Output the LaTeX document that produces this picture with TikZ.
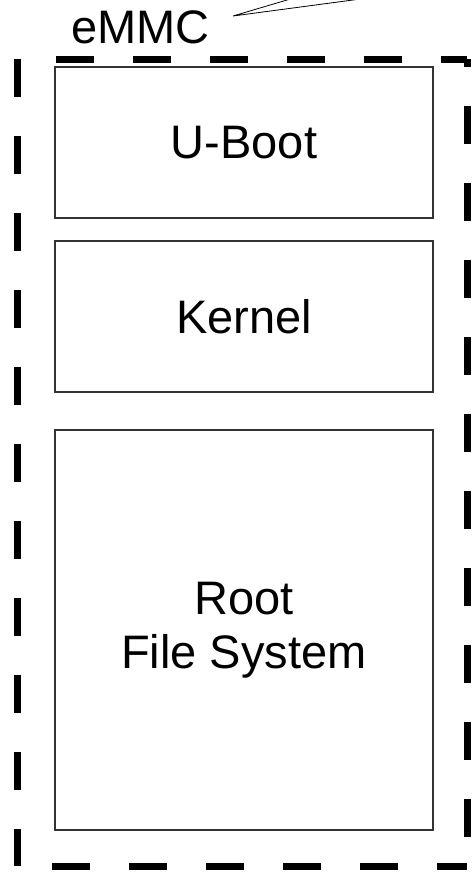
\documentclass[tikz,border=0pt]{standalone}
\usepackage{fontspec}
\setmainfont{Liberation Sans}
\begin{document}
\begin{tikzpicture}[x=1pt,y=-1pt,
  part/.style={draw=black!80,line width=1.2pt,minimum width=378pt,inner sep=0pt,align=center,font=\fontsize{47}{54}\selectfont},
  border/.style={line width=7pt,dash pattern=on 38pt off 39pt}]
\useasboundingbox (0,0) rectangle (472,873);
\clip (0,0) rectangle (472,873);

\node[part,minimum height=151pt] (uboot) at (244,142.5) {U-Boot};
\node[part,minimum height=151pt] (kernel) at (244,316.5) {Kernel};
\node[part,minimum height=400pt] (rootfs) at (244,630) {Root\\File System};

\draw[border] (17,59) -- (17,866);
\draw[border,dash phase=38pt] (17,59) -- (467,59);
\draw[border,dash phase=30pt] (467,59) -- (467,866);
\draw[border,dash phase=42pt] (17,866) -- (467,866);

\node[anchor=base west,inner sep=0pt,font=\fontsize{47}{54}\selectfont] (emmc) at (71,43) {eMMC};
\coordinate (tip) at (233,16);
\coordinate (calloutA) at (320.75,-10);
\coordinate (calloutB) at (428,-10);
\draw[line width=0.8pt] (calloutA) -- (tip) -- (calloutB);
\end{tikzpicture}
\end{document}
